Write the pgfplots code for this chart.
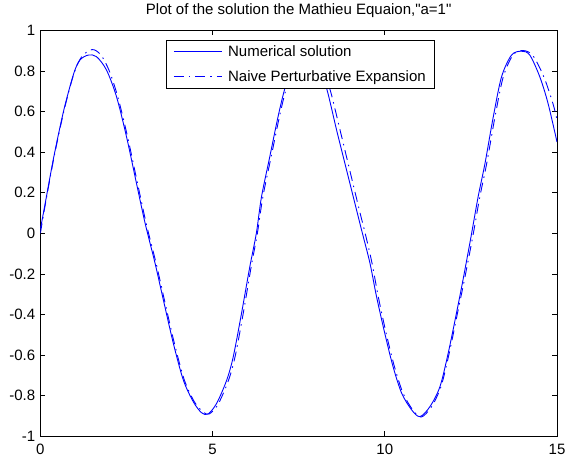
\documentclass[border=0pt]{standalone}
\usepackage{fontspec}
\setmainfont{Liberation Sans}[Ligatures=TeXOff]
\usepackage{pgfplots}
\pgfplotsset{compat=1.18}

\pgfplotstableread{
x y
0.00 0.02
0.14 0.148
0.39 0.377
0.68 0.607
0.97 0.788
1.15 0.854
1.39 0.878
1.63 0.870
1.92 0.804
2.21 0.673
2.50 0.476
2.79 0.246
3.04 0.050
3.33 -0.148
3.57 -0.328
3.86 -0.542
4.15 -0.723
4.44 -0.830
4.68 -0.884
4.87 -0.890
5.12 -0.837
5.41 -0.723
5.60 -0.608
5.84 -0.394
6.08 -0.165
6.27 0.000
6.42 0.180
6.66 0.377
6.90 0.574
7.10 0.714
7.35 0.830
7.70 0.885
8.05 0.830
8.31 0.714
8.60 0.509
8.89 0.312
9.18 0.115
9.35 0.000
9.57 -0.148
9.76 -0.312
10.00 -0.493
10.24 -0.657
10.49 -0.788
10.78 -0.870
11.02 -0.903
11.31 -0.854
11.60 -0.756
11.84 -0.591
12.08 -0.394
12.27 -0.230
12.50 -0.020
12.71 0.180
12.91 0.345
13.15 0.574
13.39 0.771
13.68 0.878
13.97 0.897
14.21 0.878
14.50 0.771
14.74 0.640
15.00 0.450
}\numerical

\pgfplotstableread{
x y
0.00 0.00
0.14 0.14
0.39 0.37
0.68 0.60
0.97 0.785
1.20 0.87
1.50 0.905
1.75 0.88
2.00 0.80
2.25 0.67
2.53 0.476
2.82 0.246
3.07 0.05
3.36 -0.148
3.60 -0.328
3.89 -0.542
4.18 -0.723
4.47 -0.83
4.72 -0.88
4.90 -0.89
5.15 -0.845
5.45 -0.73
5.65 -0.61
5.89 -0.394
6.12 -0.165
6.30 0.0
6.46 0.18
6.70 0.377
6.94 0.574
7.14 0.714
7.40 0.84
7.75 0.895
8.12 0.83
8.40 0.714
8.70 0.509
8.98 0.312
9.26 0.115
9.43 0.0
9.63 -0.148
9.81 -0.312
10.04 -0.493
10.28 -0.657
10.53 -0.788
10.82 -0.872
11.06 -0.905
11.35 -0.856
11.63 -0.756
11.87 -0.591
12.11 -0.394
12.31 -0.230
12.55 -0.020
12.76 0.18
12.96 0.345
13.20 0.574
13.44 0.771
13.73 0.88
14.03 0.90
14.30 0.875
14.62 0.77
14.88 0.64
15.00 0.56
}\naive

\begin{document}
\fontsize{15}{18}\selectfont
\begin{tikzpicture}
\useasboundingbox (-40.4pt,-24.7pt) rectangle (524.6pt,436.3pt);
\begin{axis}[
  at={(0,0)}, anchor=south west,
  scale only axis,
  width=516.6pt, height=406pt,
  xmin=0, xmax=15, ymin=-1, ymax=1,
  xtick={0,5,10,15},
  ytick={-1,-0.8,-0.6,-0.4,-0.2,0,0.2,0.4,0.6,0.8,1},
  tick pos=both, tick align=inside,
  major tick length=5pt,
  axis line style={line width=0.7pt, black},
  tick style={line width=0.7pt, black},
  /pgf/number format/assume math mode=true,
  ticklabel style={font=\fontsize{15}{18}\selectfont},
  xticklabel style={yshift=-3pt},
  title={Plot of the solution the Mathieu Equaion,"a=1"},
  title style={at={(0.5,1)}, anchor=base, yshift=10pt, font=\fontsize{15}{18}\selectfont},
]
\addplot[color=blue, line width=0.9pt, smooth] table {\numerical};
\addplot[color=blue, line width=0.9pt, smooth, dash pattern=on 10pt off 5pt on 1.5pt off 5pt] table {\naive};
% legend box, drawn by hand
\draw[black, line width=0.7pt, fill=white] (rel axis cs:0.2431,0.9761) rectangle (rel axis cs:0.7619,0.8567);
\draw[blue, line width=1pt] (rel axis cs:0.2586,0.9478) -- (rel axis cs:0.3515,0.9478);
\draw[blue, line width=1pt, dash pattern=on 10pt off 5pt on 1.5pt off 5pt] (rel axis cs:0.2586,0.8850) -- (rel axis cs:0.3515,0.8850);
\node[anchor=base west, inner sep=0pt, yshift=-5.3pt] at (rel axis cs:0.3630,0.9490) {Numerical solution};
\node[anchor=base west, inner sep=0pt, yshift=-5.3pt] at (rel axis cs:0.3630,0.8862) {Naive Perturbative Expansion};
\end{axis}
\end{tikzpicture}
\end{document}
